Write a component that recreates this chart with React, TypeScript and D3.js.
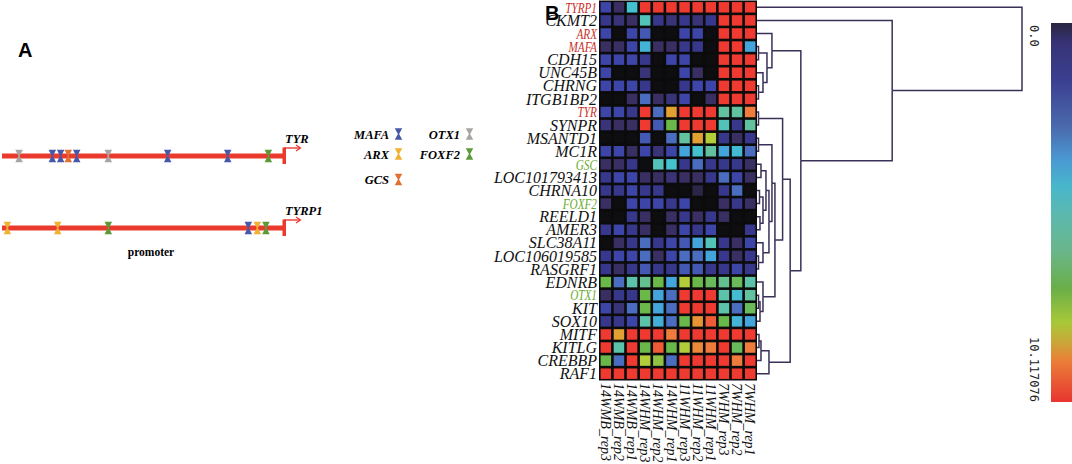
import React from "react";
import * as d3 from "d3";

// ---------------- Panel B data ----------------
const genes = [
  "TYRP1", "CKMT2", "ARX", "MAFA", "CDH15", "UNC45B", "CHRNG", "ITGB1BP2",
  "TYR", "SYNPR", "MSANTD1", "MC1R", "GSC", "LOC101793413", "CHRNA10",
  "FOXF2", "REELD1", "AMER3", "SLC38A11", "LOC106019585", "RASGRF1",
  "EDNRB", "OTX1", "KIT", "SOX10", "MITF", "KITLG", "CREBBP", "RAF1",
];
const redGenes = ["TYRP1", "ARX", "MAFA", "TYR"];
const greenGenes = ["GSC", "FOXF2", "OTX1"];

const samples = [
  "14WMB_rep3", "14WMB_rep2", "14WMB_rep1", "14WHM_rep3", "14WHM_rep2",
  "14WHM_rep1", "11WHM_rep3", "11WHM_rep2", "11WHM_rep1", "7WHM_rep3",
  "7WHM_rep2", "7WHM_rep1",
];

// expression values, one row per gene (same order as genes)
const expression: number[][] = [
  [3, 1.5, 6, 10, 10, 10, 10, 10, 10, 10, 10, 10],
  [2.5, 2, 1.5, 6.5, 2.5, 2, 2.5, 2, 2.5, 10, 10, 10],
  [3, 0, 3, 3.5, 0, 0, 3, 3, 0, 10, 10, 10],
  [1.5, 1.5, 3, 5.5, 1.5, 1.5, 2.5, 2.5, 0, 10, 10, 5],
  [3, 3, 3, 2.5, 0, 3, 3, 0, 0, 10, 10, 10],
  [3, 0, 0, 2, 0, 0, 3, 1.5, 0, 10, 10, 10],
  [3, 3, 3, 2.5, 0, 0, 2.5, 3, 3, 10, 10, 10],
  [0, 0, 1.5, 4, 1.5, 2, 3, 0, 1.5, 10, 10, 10],
  [3, 3, 2.5, 10, 4, 9.3, 10, 10, 10, 7, 7, 9.6],
  [2, 1.5, 1.5, 10, 3.5, 8, 10, 10, 10, 6.5, 2.5, 7],
  [0, 0, 0, 3.5, 0, 4, 7, 9.3, 9, 2.5, 1.5, 2.5],
  [3, 3, 1.5, 3, 2, 3, 5, 6, 7, 5, 5.7, 4],
  [1.5, 1.5, 2.5, 0, 6.5, 6, 2.5, 4, 2.5, 2.5, 2.5, 1.5],
  [2.5, 3, 3, 1.5, 1.5, 2, 1.5, 1.5, 2.5, 4, 3, 1.5],
  [2.5, 2.5, 3, 2.5, 2.5, 0, 0, 1, 0, 2.5, 4, 0],
  [1.5, 0, 3, 3, 3, 2.5, 3, 0, 0, 1.5, 2.5, 1.5],
  [0, 0, 2.5, 1.5, 0, 1.5, 2.5, 1.5, 2.5, 1.5, 0, 0],
  [2.5, 3, 2.5, 1.5, 0, 1.5, 3, 2.5, 3, 0, 0, 2.5],
  [0, 1.5, 2.5, 4, 2.5, 3, 3.5, 5, 6.5, 2.5, 1.5, 3],
  [2.5, 3, 3, 4, 1.5, 3, 4, 4, 5, 2.5, 1.5, 2.5],
  [2.5, 1.5, 2.5, 3.5, 2.5, 2.5, 3.5, 3.5, 2.5, 2.5, 3, 2.5],
  [8, 4, 6.8, 7.2, 8, 5, 9, 8, 7.8, 7.2, 7.8, 6.8],
  [1.5, 2.5, 2.5, 8, 5, 4, 10, 10, 10, 6.8, 5.8, 7],
  [3, 2, 4, 8, 5, 4, 10, 10, 10, 6.8, 4, 7.8],
  [2.5, 2.5, 3, 6.8, 5.3, 4, 8, 9.4, 9.8, 8, 5.5, 5],
  [10, 9.3, 10, 10, 10, 9.6, 10, 10, 10, 10, 10, 10],
  [10, 6.8, 10, 8, 9.8, 8, 9, 9.5, 9.6, 10, 7.8, 9.6],
  [8, 4, 10, 9, 8.5, 4, 10, 10, 10, 10, 9.6, 10],
  [10, 10, 10, 10, 10, 10, 10, 10, 10, 10, 10, 10],
];

const colorDomain = [0, 0.5, 1.5, 2.5, 3, 4, 5, 6, 7, 8, 9, 9.3, 9.6, 10];
const colorRange = [
  "#0e0e10", "#1c1a2a", "#3a2f63", "#37378c", "#3d45a8", "#4a6dc0", "#43a5dc",
  "#44c2d0", "#62c2a0", "#6bb84a", "#b2cc3a", "#e3a032", "#ef7c3c", "#ee3a30",
];

// colour bar
const colorbarLabels = ["0.0", "10.117076"];
const colorbarStops = [
  [0, "#2a2640"], [0.05, "#363274"], [0.15, "#3b3f90"], [0.27, "#4a68ac"],
  [0.36, "#4a98d2"], [0.43, "#48b6cc"], [0.5, "#5ab8b0"], [0.6, "#6ab68c"],
  [0.7, "#6aae48"], [0.79, "#a8c838"], [0.84, "#c8a838"], [0.89, "#ea8038"],
  [1, "#e83530"],
] as [number, string][];

// dendrogram: [height, left, right] or leaf name
type TreeNode = string | [number, TreeNode, TreeNode];
const dendrogram: TreeNode = [266, "TYRP1",
  [135.7, "CKMT2",
    [44,
      [15, "ARX", [10, [1.5, "MAFA", "CDH15"], [6, "UNC45B", [1.5, "CHRNG", "ITGB1BP2"]]]],
      [33.3,
        [25.7,
          [1.5, "TYR", "SYNPR"],
          [18,
            [15,
              [1.5, "MSANTD1", "MC1R"],
              [12,
                [9, [4, "GSC", "LOC101793413"], [6, [2.5, "CHRNA10", "FOXF2"], [3, "REELD1", "AMER3"]]],
                [6, "SLC38A11", [1.5, "LOC106019585", "RASGRF1"]]]],
            [6, "EDNRB", [3, [1.5, "OTX1", "KIT"], "SOX10"]]]],
        [12, [4, [2, "MITF", "KITLG"], "CREBBP"], "RAF1"]]]]];

// ---------------- Panel A data ----------------
const tfNames = ["MAFA", "ARX", "GCS", "OTX1", "FOXF2"];
const tfColors = ["#4858a8", "#f0b030", "#e07034", "#a8a4a0", "#5c9a38"];
const promoters = ["TYR", "TYRP1"];
const tyrSites = [
  ["OTX1", -1879], ["MAFA", -1643], ["MAFA", -1584], ["GCS", -1530], ["MAFA", -1470],
  ["OTX1", -1246], ["MAFA", -825], ["MAFA", -399], ["FOXF2", -111],
] as [string, number][];
const tyrp1Sites = [
  ["ARX", -1962], ["ARX", -1605], ["FOXF2", -1246], ["MAFA", -253], ["ARX", -189], ["FOXF2", -128],
] as [string, number][];

const serif = "'Liberation Serif', 'Times New Roman', serif";

function hourglass(w: number, h: number) {
  return `M${-w / 2},${-h / 2}L${w / 2},${-h / 2}L${w * 0.08},0L${w / 2},${h / 2}L${-w / 2},${h / 2}L${-w * 0.08},0Z`;
}

export default function App() {
  // heatmap scales
  const x = d3.scaleBand<string>().domain(samples).range([599, 757]).paddingInner(0.2).paddingOuter(0.12);
  const y = d3.scaleBand<string>().domain(genes).range([0.5, 380.5]).paddingInner(0.2).paddingOuter(0.12);
  const color = d3.scaleLinear<string>().domain(colorDomain).range(colorRange).clamp(true);
  const hScale = d3.scaleLinear().domain([0, 266]).range([757, 1022]);
  const rowCenter = (g: string) => (y(g) as number) + y.bandwidth() / 2;

  // dendrogram layout
  const root = d3.hierarchy<TreeNode>(dendrogram, (d) => (Array.isArray(d) ? [d[1], d[2]] : null));
  const pos = new Map<any, { x: number; y: number }>();
  root.eachAfter((n) => {
    if (!n.children) {
      pos.set(n, { x: hScale(0), y: rowCenter(n.data as string) });
    } else {
      const ys = n.children.map((c) => pos.get(c)!.y);
      pos.set(n, { x: hScale((n.data as any)[0]), y: d3.mean(ys) as number });
    }
  });
  const links: string[] = [];
  root.each((n) => {
    if (n.children) {
      const p = pos.get(n)!;
      n.children.forEach((c) => {
        const q = pos.get(c)!;
        links.push(`M${q.x},${q.y}H${p.x}V${p.y}`);
      });
    }
  });

  // colour bar
  const cbY = d3.scaleLinear().domain([0, 10.117076]).range([23, 402]);

  // panel A scales
  const pScale = d3.scaleLinear().domain([-2000, 0]).range([2, 284]);
  const lineY = d3.scalePoint<string>().domain(promoters).range([156, 228]);
  const tfColor = d3.scaleOrdinal<string, string>().domain(tfNames).range(tfColors);
  const siteSets = [tyrSites, tyrp1Sites];
  const legendPos: [number, number][] = [[389, 134], [389, 154], [389, 179.5], [460, 134], [460, 154]];

  return (
    <svg width={1072} height={464} style={{ position: "absolute", left: 0, top: 0, background: "#fff" }}>
      <defs>
        <linearGradient id="cbar" x1="0" y1="0" x2="0" y2="1">
          {colorbarStops.map(([o, c], i) => (
            <stop key={i} offset={o} stopColor={c} />
          ))}
        </linearGradient>
      </defs>
      <rect width={1072} height={464} fill="#fff" />

      {/* Panel labels */}
      <text x={18} y={57} fontFamily="'Liberation Sans', Arial, sans-serif" fontWeight="bold" fontSize={20}>A</text>
      <text x={545} y={20} fontFamily="'Liberation Sans', Arial, sans-serif" fontWeight="bold" fontSize={20}>B</text>

      {/* Panel A: promoters */}
      {promoters.map((p, i) => {
        const ly = lineY(p) as number;
        const x0 = pScale(0);
        return (
          <g key={p}>
            <line x1={pScale(-2000)} x2={x0} y1={ly} y2={ly} stroke="#ea3a2e" strokeWidth={5} />
            <rect x={x0 - 1.5} y={ly - 8.5} width={3.5} height={16.5} fill="#ea3a2e" />
            <path d={`M${x0},${ly - 8}H${x0 + 16}`} stroke="#ea3a2e" strokeWidth={1.4} fill="none" />
            <path d={`M${x0 + 12},${ly - 11}L${x0 + 16.5},${ly - 8}L${x0 + 12},${ly - 5}`} stroke="#ea3a2e" strokeWidth={1.3} fill="none" />
            <text x={x0 + 1} y={ly - 13} fontFamily={serif} fontStyle="italic" fontWeight="bold" fontSize={12.5}>{p}</text>
            {siteSets[i].map(([tf, s], j) => (
              <path key={j} d={hourglass(7.5, 12.5)} transform={`translate(${pScale(s)},${ly})`} fill={tfColor(tf)} />
            ))}
          </g>
        );
      })}
      <text x={151} y={256} textAnchor="middle" fontFamily={serif} fontWeight="bold" fontSize={11.5}>promoter</text>

      {/* Panel A legend */}
      {tfNames.map((tf, i) => (
        <g key={tf}>
          <text x={legendPos[i][0]} y={legendPos[i][1] + 4.5} textAnchor="end" fontFamily={serif} fontStyle="italic" fontWeight="bold" fontSize={12.5}>{tf}</text>
          <path d={hourglass(7.5, 11.5)} transform={`translate(${legendPos[i][0] + 9.5},${legendPos[i][1]})`} fill={tfColor(tf)} />
        </g>
      ))}

      {/* Heatmap */}
      <rect x={599} y={0.5} width={158} height={380} fill="#0b0b0b" />
      {genes.map((g, r) =>
        samples.map((s, c) => (
          <rect key={g + s} x={x(s)} y={y(g)} width={x.bandwidth()} height={y.bandwidth()} fill={color(expression[r][c])} />
        ))
      )}
      {genes.map((g) => {
        const red = redGenes.includes(g);
        const green = greenGenes.includes(g);
        const highlighted = red || green;
        return (
          <text key={g} transform={`translate(597,${rowCenter(g)}) scale(${highlighted ? 0.75 : 1},1)`} dy="0.35em"
            textAnchor="end" fontFamily={serif} fontStyle="italic"
            fontSize={highlighted ? 15 : 16} fill={red ? "#c9302a" : green ? "#6aaa30" : "#111"}>{g}</text>
        );
      })}
      {samples.map((s) => (
        <text key={s} transform={`translate(${(x(s) as number) + x.bandwidth() / 2},383) rotate(90)`} dy="0.35em"
          fontFamily={serif} fontStyle="italic" fontSize={14} fill="#111">{s}</text>
      ))}

      {/* Dendrogram */}
      <g fill="none" stroke="#3a3058" strokeWidth={1.5}>
        {links.map((d, i) => (
          <path key={i} d={d} />
        ))}
      </g>

      {/* Colour bar */}
      <rect x={1051} y={cbY(0)} width={21} height={cbY(10.117076) - cbY(0)} fill="url(#cbar)" />
      <text transform={`translate(1034,${cbY(0) + 2}) rotate(90)`} dy="0.35em" fontFamily="'DejaVu Sans Mono', monospace" fontSize={12} fill="#222">{colorbarLabels[0]}</text>
      <text transform={`translate(1034,${cbY(10.117076)}) rotate(90)`} dy="0.35em" textAnchor="end" fontFamily="'DejaVu Sans Mono', monospace" fontSize={12} fill="#222">{colorbarLabels[1]}</text>
    </svg>
  );
}
